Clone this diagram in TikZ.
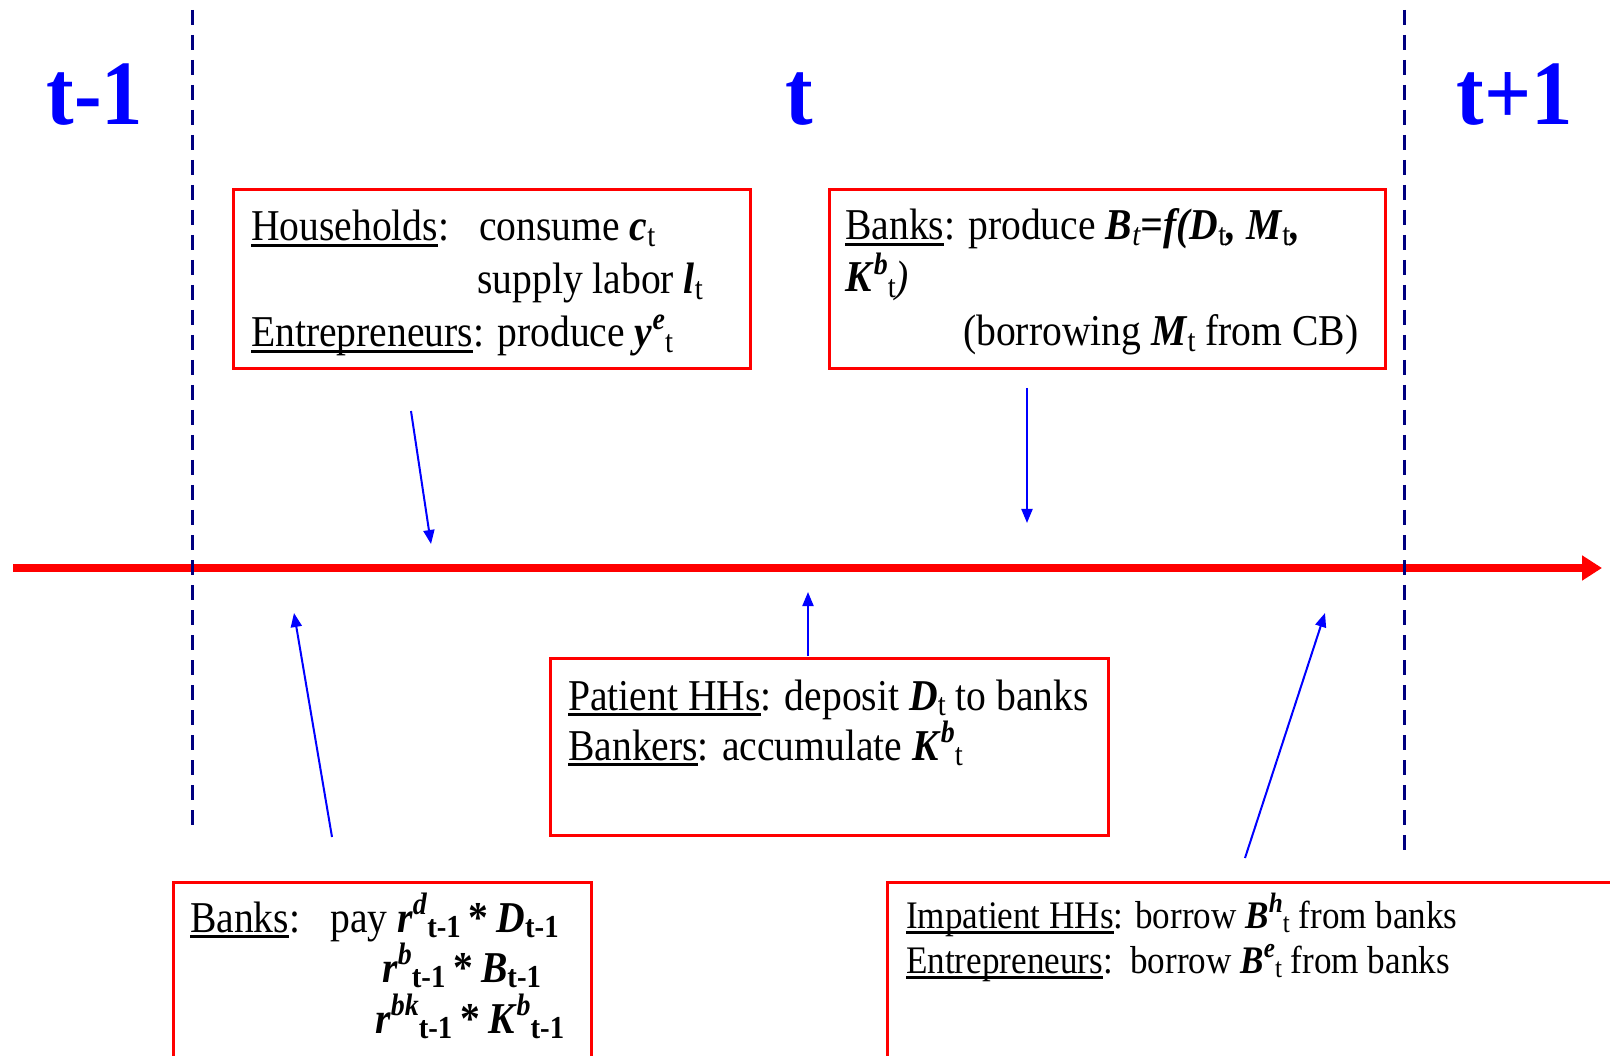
\documentclass[tikz,border=0pt]{standalone}
\usepackage{fontspec}
\setmainfont{Liberation Serif}[FakeStretch=0.9]
\usetikzlibrary{arrows.meta}
\definecolor{navyline}{RGB}{0,0,128}
\newcommand\ulw[1]{\setbox0\hbox{#1}\rlap{\rule[-6pt]{\wd0}{3pt}}\box0}
\newcommand\bi[1]{\textbf{\textit{#1}}}
\newcommand\sps[2][31]{\raisebox{0.40em}{\fontsize{#1}{#1}\selectfont #2}}
\newcommand\sbs[2][32]{\raisebox{-0.12em}{\fontsize{#1}{#1}\selectfont #2}}
\newcommand\mystar{\hspace{0.18em}\textbf{*}\hspace{0.18em}}
\tikzset{
  redbox/.style={draw=red, line width=3pt, inner sep=0pt, anchor=north west},
  bodytext/.style={anchor=base west, inner sep=0pt, font=\fontsize{44}{52}\selectfont},
  smalltext/.style={anchor=base west, inner sep=0pt, font=\fontsize{39}{46}\selectfont},
  titletext/.style={anchor=base, inner sep=0pt, text=blue, font=\fontsize{92}{92}\selectfont\bfseries},
  bluearrow/.style={draw=blue, line width=2pt, -{Triangle[length=14pt,width=11pt]}},
  timeline/.style={draw=red, line width=8pt, -{Triangle[length=20pt,width=24pt]}},
  periodline/.style={draw=navyline, line width=3pt, dash pattern=on 15pt off 10pt}
}
\begin{document}
\begin{tikzpicture}[x=1pt,y=-1pt]
\path[use as bounding box] (0,0) rectangle (1610,1056);
\clip (0,0) rectangle (1610,1056);

% titles
\node[titletext] (tm1) at (95,125) {t-1};
\node[titletext] (t0) at (799,125) {t};
\node[titletext] (tp1) at (1515,125) {t+1};

% timeline
\coordinate (tl0) at (13,568);
\coordinate (tl1) at (1602,568);
\draw[timeline] (tl0) -- (tl1);

% period separators
\coordinate (d1a) at (192,10);
\coordinate (d1b) at (192,830);
\coordinate (d2a) at (1404,10);
\coordinate (d2b) at (1404,857);
\draw[periodline] (d1a) -- (d1b);
\draw[periodline] (d2a) -- (d2b);

% boxes
\node[redbox, minimum width=517pt, minimum height=179pt] (hh) at (232,188) {};
\node[redbox, minimum width=556pt, minimum height=179pt] (bk) at (828,188) {};
\node[redbox, minimum width=558pt, minimum height=177pt] (ph) at (549,657) {};
\node[redbox, minimum width=418pt, minimum height=300pt] (bp) at (172,881) {};
\node[redbox, minimum width=800pt, minimum height=300pt] (ih) at (886,881) {};

% box 1 text
\node[bodytext] (hh1a) at (251,241) {\ulw{Households}:};
\node[bodytext] (hh1b) at (479,241) {consume \bi{c}\sbs{t}};
\node[bodytext] (hh2) at (477,294) {supply labor \bi{l}\sbs{t}};
\node[bodytext] (hh3) at (251,347) {\ulw{Entrepreneurs}: produce \bi{y}\sps{\bi{e}}\sbs{t}};

% box 2 text
\node[bodytext] (bk1) at (845,240) {\ulw{Banks}: produce \bi{B}\sbs{\textit{t}}\bi{=f(D}\sbs{t}\bi{, M}\sbs{t}\bi{,}};
\node[bodytext] (bk2) at (845,292) {\bi{K}\sps{\bi{b}}\sbs{t}\textit{)}};
\node[bodytext] (bk3) at (963,346) {(borrowing \bi{M}\sbs{t} from CB)};

% box 3 text
\node[bodytext] (ph1) at (568,710) {\ulw{Patient HHs}: deposit \bi{D}\sbs{t} to banks};
\node[bodytext] (ph2) at (568,760) {\ulw{Bankers}: accumulate \bi{K}\sps{\bi{b}}\sbs{t}};

% box 4 text
\node[bodytext] (bp1a) at (190,932) {\ulw{Banks}:};
\node[bodytext] (bp1b) at (330,932) {pay \bi{r}\sps{\bi{d}}\sbs{\textbf{t-1}}\mystar\bi{D}\sbs{\textbf{t-1}}};
\node[bodytext] (bp2) at (382,982) {\bi{r}\sps{\bi{b}}\sbs{\textbf{t-1}}\mystar\bi{B}\sbs{\textbf{t-1}}};
\node[bodytext] (bp3) at (375,1033) {\bi{r}\sps{\bi{bk}}\sbs{\textbf{t-1}}\mystar\bi{K}\sps{\bi{b}}\sbs{\textbf{t-1}}};

% box 5 text
\node[smalltext] (ih1) at (906,928) {\ulw{Impatient HHs}: borrow \bi{B}\sps[28]{\bi{h}}\sbs[28]{t} from banks};
\node[smalltext] (ih2) at (906,973) {\ulw{Entrepreneurs}:\ \ borrow \bi{B}\sps[28]{\bi{e}}\sbs[28]{t} from banks};

% arrows
\coordinate (a1s) at (411,411);
\coordinate (a1e) at (431,544);
\coordinate (a2s) at (1027,388);
\coordinate (a2e) at (1027,523);
\coordinate (a3s) at (808,656);
\coordinate (a3e) at (808,592);
\coordinate (a4s) at (332,837);
\coordinate (a4e) at (294,613);
\coordinate (a5s) at (1245,858);
\coordinate (a5e) at (1325,613);
\draw[bluearrow] (a1s) -- (a1e);
\draw[bluearrow] (a2s) -- (a2e);
\draw[bluearrow] (a3s) -- (a3e);
\draw[bluearrow] (a4s) -- (a4e);
\draw[bluearrow] (a5s) -- (a5e);
\end{tikzpicture}
\end{document}
